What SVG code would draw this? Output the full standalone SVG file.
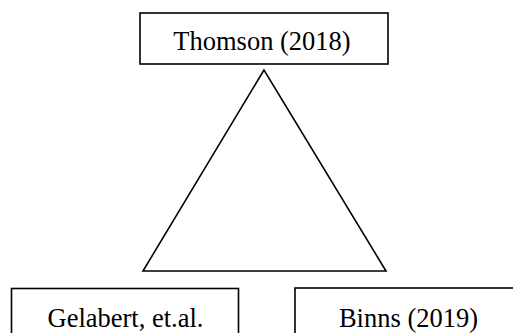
<svg xmlns="http://www.w3.org/2000/svg" width="513" height="333" viewBox="0 0 513 333">
<style>
.box{fill:#fff;stroke:#000;stroke-width:1.6}
.t{font-family:"Liberation Serif","Times New Roman",serif;font-size:26.5px;fill:#000;text-anchor:middle}
</style>
<rect width="513" height="333" fill="#fff"/>
<g id="connectors">
<polygon points="264,70 143,271 386,271" fill="none" stroke="#000" stroke-width="1.6"/>
</g>
<g id="thomson">
<rect class="box" x="140" y="13" width="248" height="51"/>
<text class="t" x="262" y="50">Thomson (2018)</text>
</g>
<g id="gelabert">
<rect class="box" x="11.5" y="288.5" width="227" height="60"/>
<text class="t" x="125.5" y="327">Gelabert, et.al.</text>
</g>
<g id="binns">
<rect class="box" x="295" y="288" width="230" height="60"/>
<text class="t" x="408.5" y="327">Binns (2019)</text>
</g>
</svg>
